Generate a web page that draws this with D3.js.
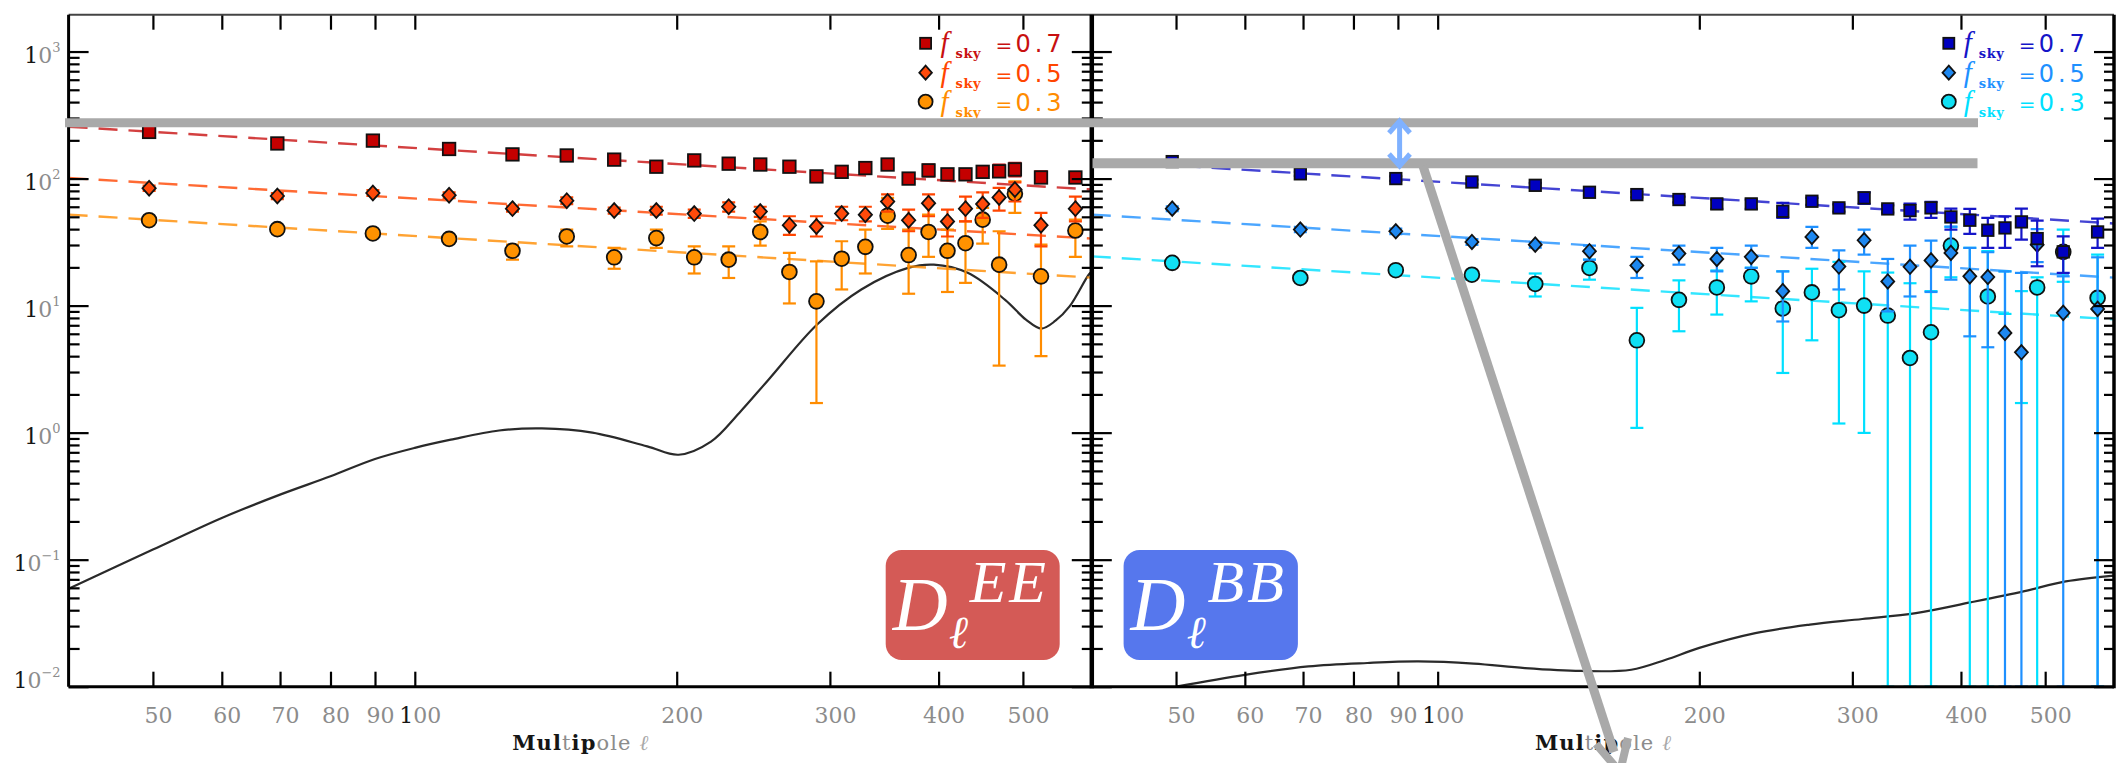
<!DOCTYPE html>
<html>
<head>
<meta charset="utf-8">
<script src="https://cdn.jsdelivr.net/npm/d3@7"></script>
<style>
  body { margin: 0; background: #fff; }
  svg { display: block; }
</style>
</head>
<body>
<svg id="chart" width="2122" height="763"></svg>
<script>
// ---- multipole bins (shared by both spectra) ----
const ell = [49.5, 69.5, 89.5, 109.5, 129.5, 149.5, 169.5, 189.5, 209.5, 229.5, 249.5, 269.5, 289.5,
             309.5, 329.5, 349.5, 369.5, 389.5, 409.5, 429.5, 449.5, 469.5, 489.5, 524.5, 574.5];

// ---- EE band powers, three sky fractions ----
const eeF07   = [233, 189, 199, 171, 155, 152, 141, 124, 139, 131, 129, 124, 104, 113, 121, 129, 100, 116, 108, 108, 113, 114, 118, 102, 102];
const eeF07Lo = [226, 183, 192, 165, 149, 146, 135, 118, 132, 124, 122, 117, 98, 106, 113, 121, 93, 104, 100, 100, 105, 103, 104, 92.5, 92.5];
const eeF07Hi = [240, 195, 206, 177, 161, 158, 147, 130, 146, 138, 136, 131, 110, 120, 129, 137, 107, 129, 116, 116, 121, 129, 133, 114, 111];

const eeF05   = [84, 73, 77, 74, 58, 67, 56, 56, 53, 60, 55, 43, 42, 53, 52, 66, 47, 64, 46, 58, 63, 71, 82, 43, 58];
const eeF05Lo = [80, 69, 73, 70, 55, 63, 53, 52, 49, 55, 50, 36, 35, 47, 46, 55, 38.5, 50.5, 35, 46, 49, 56, 66, 29.3, 46];
const eeF05Hi = [88, 77, 81, 78, 61, 71, 59, 60, 57, 65, 60, 50.5, 50.5, 60, 60, 75, 57, 75, 57, 72, 78, 84.5, 93.5, 53.7, 72];

const eeF03   = [47, 40, 37, 33.5, 27, 35, 24, 34, 24, 23, 38, 18.4, 10.8, 23.4, 29, 51, 25, 38, 27, 31, 47.5, 21, 76, 17, 39];
const eeF03Lo = [45, 38.5, 35.5, 32, 23, 29.3, 19.5, 28.5, 17.9, 16.5, 29.7, 10.4, 1.71, 13.4, 17.9, 40.2, 12.4, 24.2, 12.8, 15.1, 30.8, 3.37, 53.7, 4.0, 24.2];
const eeF03Hi = [49, 42, 39, 35, 30.2, 39.7, 28.5, 39.7, 29.3, 29.3, 46.1, 26, 22.3, 32.1, 39.7, 70.5, 39.7, 52.1, 39.7, 46.1, 58.8, 38.5, 95, 30.2, 47.5];

// ---- BB band powers (null = negative estimate, only the error bar is shown; 0 = bar runs off the axis) ----
const bbF07   = [136, 109, 100, 94, 88.5, 78, 74.8, 68.4, 63.2, 63.2, 55.3, 66.3, 58.8, 70.5, 57.7, 56, 58.8, 49.9, 47, 39.2, 40.9, 45.6, 33.7, 26.5, 38];
const bbF07Lo = [131, 105, 96, 90, 85, 74.5, 71, 65, 57.7, 57.7, 49.1, 62, 55, 63.2, 54, 47.5, 49.1, 39.7, 36.7, 28.5, 28.5, 33.1, 20.4, 18.1, 28.5];
const bbF07Hi = [141, 113, 104, 98, 92, 81.5, 78.5, 72, 68.4, 68.4, 64.4, 70.5, 62.6, 78, 61.5, 63.5, 65.6, 58, 57.7, 49.1, 50.5, 58, 46.7, 35.1, 48.4];

const bbF05   = [58, 39.7, 38.5, 31.7, 30.2, 26.8, 20.7, 25.7, 23.3, 24.2, 13, 34.7, 20.3, 32.7, 15.5, 20.2, 22.7, 26, 17, 16.8, 6.1, 4.29, 30.2, 8.77, 9.42];
const bbF05Lo = [55.5, 37.8, 36.6, 30, 28.6, 23, 16.5, 21, 18.6, 19.8, 7.5, 28.5, 13.4, 25.2, 9, 11.8, 12.8, 16, 5.73, 4.7, 0, 0, 22, 0, 0];
const bbF05Hi = [60.5, 41.6, 40.4, 33.4, 31.8, 29.7, 24.2, 29.7, 28.5, 29.7, 18.6, 41.7, 27.2, 39.7, 23.3, 29.7, 32.5, 41.9, 28.5, 26.3, 18.6, 18.1, 40, 17, 24];

const bbF03   = [21.7, 16.5, 19, 17.5, 14.8, 19.8, 5.33, 11.1, 13.9, 17, 9.5, 12.7, 9.2, 10, 8.35, 3.87, 6.17, 29.7, null, 11.8, null, null, 13.9, 26.5, 11.5];
const bbF03Lo = [20.7, 15.7, 18.1, 16.6, 11.8, 16, 1.09, 6.28, 8.5, 10.8, 2.95, 5.33, 1.18, 0.995, 0, 0, 0, 16.7, 0, 0, 8.6, 1.71, 0, 15.4, 0];
const bbF03Hi = [22.7, 17.3, 19.9, 18.4, 17.9, 23, 9.6, 15.8, 18.9, 19.9, 18.6, 19.5, 22.1, 18.6, 18.2, 15, 13, 41.7, 28.5, 26.8, 18.6, 13, 16.7, 39.7, 25.2];

// ---- power-law fits (end points of the dashed lines) ----
const fitEll  = [40, 600];
const eeFit07 = [256, 82];
const eeFit05 = [101, 33.7];
const eeFit03 = [52, 16.6];
const bbFit07 = [139, 44.3];
const bbFit05 = [52, 16.6];
const bbFit03 = [24.4, 7.8];

// ---- theory spectra ----
const eeTheoryEll = [40, 50, 60, 70, 80, 90, 100, 110, 125, 140, 160, 185, 201, 219, 236, 255, 290, 326, 369, 395, 432, 477, 504, 525, 545, 566, 595, 600];
const eeTheoryVal = [0.059, 0.12, 0.213, 0.325, 0.453, 0.62, 0.759, 0.88, 1.04, 1.08, 1.0, 0.78, 0.67, 0.85, 1.43, 2.61, 7.1, 13.4, 19.8, 21, 18.1, 11.1, 7.76, 6.6, 7.6, 9.9, 17.5, 18.5];
const bbTheoryEll = [50, 60, 71, 83, 95, 110, 126, 146, 167, 183, 200, 232, 268, 308, 355, 410, 472, 528, 600];
const bbTheoryVal = [0.0100, 0.0124, 0.01445, 0.01537, 0.0158, 0.0152, 0.0140, 0.0133, 0.0136, 0.0163, 0.0202, 0.0264, 0.0308, 0.0341, 0.038, 0.0461, 0.0563, 0.0675, 0.075];

// ---- axes ----
const xDomain = [40, 600];
const yDomain = [0.01, 1950];
const xTickValues = [50, 60, 70, 80, 90, 100, 200, 300, 400, 500];
const yMajorValues = [0.01, 0.1, 1, 10, 100, 1000];
const yMajorExp = ["\u22122", "\u22121", "0", "1", "2", "3"];
const legendLabels = ["0.7", "0.5", "0.3"];

// ---- layout ----
const svg = d3.select("#chart");
svg.append("rect").attr("width", 2122).attr("height", 763).attr("fill", "#fff");
const TOP = 14.7, BOTTOM = 686.7;
const y = d3.scaleLog().domain(yDomain).range([BOTTOM, TOP]);

const panels = [
  { id: "ee", x0: 68.6, x1: 1091.8,
    series: [
      { v: eeF03, lo: eeF03Lo, hi: eeF03Hi, fit: eeFit03, shape: "circle",  fill: "#ff9200", line: "#ff8c00" },
      { v: eeF05, lo: eeF05Lo, hi: eeF05Hi, fit: eeFit05, shape: "diamond", fill: "#ff4a0a", line: "#ff4500" },
      { v: eeF07, lo: eeF07Lo, hi: eeF07Hi, fit: eeFit07, shape: "square",  fill: "#c40000", line: "#c81010" }
    ],
    theoryL: eeTheoryEll, theoryV: eeTheoryVal,
    box: { x: 817.1, w: 174, fill: "#d45a56", sup: "EE" },
  },
  { id: "bb", x0: 1091.8, x1: 2114,
    series: [
      { v: bbF03, lo: bbF03Lo, hi: bbF03Hi, fit: bbFit03, shape: "circle",  fill: "#10e0f4", line: "#00e0ff" },
      { v: bbF05, lo: bbF05Lo, hi: bbF05Hi, fit: bbFit05, shape: "diamond", fill: "#1e88f0", line: "#1e90ff" },
      { v: bbF07, lo: bbF07Lo, hi: bbF07Hi, fit: bbFit07, shape: "square",  fill: "#0000c0", line: "#1515c8" }
    ],
    theoryL: bbTheoryEll, theoryV: bbTheoryVal,
    box: { x: 31.8, w: 174.3, fill: "#5677ed", sup: "BB" },
  }
];

const serif = "'DejaVu Serif', serif";
const lightGray = "#8c8c8c", darkInk = "#151515";

// digits rendered with the heavy "1" and pale other glyphs
function inkDigits(sel, str) {
  sel.text(null);
  for (const ch of str) {
    sel.append("tspan").attr("fill", ch === "1" ? darkInk : lightGray).text(ch);
  }
}

function drawMarker(g, shape, cx, cy, fill, s) {
  if (shape === "square") {
    g.append("rect").attr("x", cx - s.sq / 2).attr("y", cy - s.sq / 2)
      .attr("width", s.sq).attr("height", s.sq)
      .attr("fill", fill).attr("stroke", "#111").attr("stroke-width", 1.8);
  } else if (shape === "diamond") {
    const r = s.di;
    g.append("path")
      .attr("d", `M${cx},${cy - r}L${cx + r * 0.9},${cy}L${cx},${cy + r}L${cx - r * 0.9},${cy}Z`)
      .attr("fill", fill).attr("stroke", "#111").attr("stroke-width", 1.8);
  } else {
    g.append("circle").attr("cx", cx).attr("cy", cy).attr("r", s.ci)
      .attr("fill", fill).attr("stroke", "#111").attr("stroke-width", 1.8);
  }
}

panels.forEach((p, pi) => {
  const x = d3.scaleLog().domain(xDomain).range([p.x0, p.x1]);
  const g = svg.append("g").attr("class", "panel-" + p.id);
  const clipId = "clip-" + p.id;
  svg.append("clipPath").attr("id", clipId).append("rect")
    .attr("x", p.x0).attr("y", TOP).attr("width", p.x1 - p.x0).attr("height", BOTTOM - TOP + 1);
  const plot = g.append("g").attr("clip-path", `url(#${clipId})`);

  // theory curve
  const line = d3.line().x(d => x(d[0])).y(d => y(d[1])).curve(d3.curveCatmullRom.alpha(0.5));
  plot.append("path")
    .datum(p.theoryL.map((l, i) => [l, p.theoryV[i]]))
    .attr("d", line).attr("fill", "none").attr("stroke", "#2a2a2a").attr("stroke-width", 2.2);

  // fitted power laws
  p.series.forEach(s => {
    plot.append("path")
      .datum(fitEll.map((l, i) => [l, s.fit[i]]))
      .attr("d", d3.line().x(d => x(d[0])).y(d => y(d[1])))
      .attr("fill", "none").attr("stroke", s.line).attr("stroke-width", 2.4)
      .attr("stroke-dasharray", "19 11").attr("stroke-opacity", 0.8);
  });

  // error bars + markers
  const size = pi === 0 ? { sq: 12.5, di: 7.4, ci: 7.4 } : { sq: 11.5, di: 7.2, ci: 7.4 };
  p.series.forEach(s => {
    const bars = plot.append("g");
    ell.forEach((l, i) => {
      const cx = x(l);
      const yh = y(s.hi[i]);
      const yl = s.lo[i] > yDomain[0] ? y(s.lo[i]) : BOTTOM;
      bars.append("line").attr("x1", cx).attr("x2", cx).attr("y1", yh).attr("y2", yl)
        .attr("stroke", s.line).attr("stroke-width", 2.2);
      [yh, yl].forEach(yy => bars.append("line")
        .attr("x1", cx - 6.5).attr("x2", cx + 6.5).attr("y1", yy).attr("y2", yy)
        .attr("stroke", s.line).attr("stroke-width", 2.2));
    });
    const marks = plot.append("g");
    ell.forEach((l, i) => {
      if (s.v[i] == null) return;
      drawMarker(marks, s.shape, x(l), y(s.v[i]), s.fill, size);
    });
  });

  // axes: inward ticks on all four sides
  const tickStyle = sel => {
    sel.select(".domain").remove();
    sel.selectAll(".tick line").attr("stroke", "#000").attr("stroke-width", 2.2);
  };
  const bottomAxis = g.append("g").attr("transform", `translate(0,${BOTTOM})`)
    .call(d3.axisBottom(x).tickValues(xTickValues).tickSizeInner(-15).tickSizeOuter(0).tickFormat(d3.format("d")));
  tickStyle(bottomAxis);
  bottomAxis.selectAll(".tick text")
    .attr("y", 36.5).attr("dy", 0).attr("dx", 5)
    .attr("font-family", serif).attr("font-size", 22)
    .each(function (d) { inkDigits(d3.select(this), String(d)); });

  const topAxis = g.append("g").attr("transform", `translate(0,${TOP})`)
    .call(d3.axisTop(x).tickValues(xTickValues).tickSizeInner(-15).tickSizeOuter(0).tickFormat(""));
  tickStyle(topAxis);

  const yMinor = y.ticks().filter(v => yMajorValues.indexOf(v) < 0);
  const leftMajor = g.append("g").attr("transform", `translate(${p.x0},0)`)
    .call(d3.axisLeft(y).tickValues(yMajorValues).tickSizeInner(-20).tickSizeOuter(0).tickPadding(8).tickFormat(""));
  tickStyle(leftMajor);
  const leftMinor = g.append("g").attr("transform", `translate(${p.x0},0)`)
    .call(d3.axisLeft(y).tickValues(yMinor).tickSizeInner(-11).tickSizeOuter(0).tickFormat(""));
  tickStyle(leftMinor);
  const rightMajor = g.append("g").attr("transform", `translate(${p.x1},0)`)
    .call(d3.axisRight(y).tickValues(yMajorValues).tickSizeInner(-20).tickSizeOuter(0).tickFormat(""));
  tickStyle(rightMajor);
  const rightMinor = g.append("g").attr("transform", `translate(${p.x1},0)`)
    .call(d3.axisRight(y).tickValues(yMinor).tickSizeInner(-10).tickSizeOuter(0).tickFormat(""));
  tickStyle(rightMinor);

  if (pi === 0) {
    // decade labels 10^n on the outer left axis (lowest one lifted to stay inside the frame)
    yMajorValues.forEach((v, k) => {
      const base = k === 0 ? y(v) + 1.5 : y(v) + 11;
      const t = g.append("text").attr("x", p.x0 - 8).attr("y", base)
        .attr("text-anchor", "end").attr("font-family", serif).attr("font-size", 22);
      t.append("tspan").attr("fill", darkInk).text("1");
      t.append("tspan").attr("fill", lightGray).text("0");
      t.append("tspan").attr("fill", lightGray).attr("font-size", 13).attr("dy", -11).text(yMajorExp[k]);
    });
  }

  // x-axis title
  const title = g.append("text").attr("x", (p.x0 + p.x1) / 2).attr("y", 750)
    .attr("text-anchor", "middle").attr("font-family", serif).attr("font-size", 21)
    .attr("textLength", 136).attr("lengthAdjust", "spacing");
  title.append("tspan").attr("fill", darkInk).attr("font-weight", "bold").text("Mul");
  title.append("tspan").attr("fill", lightGray).text("t");
  title.append("tspan").attr("fill", darkInk).attr("font-weight", "bold").text("ip");
  title.append("tspan").attr("fill", lightGray).text("ole ");
  title.append("tspan").attr("fill", "#a8a8a8").attr("font-style", "italic").text("\u2113");

  // legend
  const legend = g.append("g");
  const rows = [43.3, 72.7, 101.7];
  const legendSeries = [p.series[2], p.series[1], p.series[0]];
  legendSeries.forEach((s, k) => {
    const mx = p.x0 + 857, my = rows[k];
    drawMarker(legend, s.shape, mx, my, s.fill, { sq: 11, di: 7, ci: 7 });
    const col = s.line;
    const t = legend.append("text").attr("y", my + 9).attr("fill", col);
    t.append("tspan").attr("x", mx + 15)
      .attr("font-family", "'Liberation Serif', serif").attr("font-style", "italic")
      .attr("font-size", 29).text("f");
    t.append("tspan").attr("x", mx + 30).attr("dy", 6)
      .attr("font-family", serif).attr("font-weight", "bold")
      .attr("font-size", 13).attr("textLength", 25).text("sky");
    t.append("tspan").attr("x", mx + 70).attr("dy", -6)
      .attr("font-family", "'DejaVu Sans', sans-serif").attr("font-size", 20).text("=");
    t.append("tspan").attr("x", mx + 90)
      .attr("font-family", "'DejaVu Sans', sans-serif").attr("font-size", 24)
      .attr("textLength", 46).attr("lengthAdjust", "spacing").text(legendLabels[k]);
  });

  // spectrum badge: D with subscript ell and polarisation superscript
  const bx = p.x0 + p.box.x;
  g.append("rect").attr("x", bx).attr("y", 550).attr("width", p.box.w).attr("height", 110)
    .attr("rx", 16).attr("fill", p.box.fill);
  const badge = g.append("text").attr("y", 630).attr("fill", "#fff")
    .attr("font-family", "'Liberation Serif', serif").attr("font-style", "italic");
  badge.append("tspan").attr("x", bx + 7).attr("font-size", 76).text("D");
  badge.append("tspan").attr("x", bx + 63).attr("y", 648).attr("font-size", 46).text("\u2113");
  badge.append("tspan").attr("x", bx + 84).attr("y", 601.5).attr("font-size", 60)
    .attr("letter-spacing", 3).text(p.box.sup);
});

// frame
const frame = svg.append("g").attr("stroke", "#000").attr("fill", "none");
frame.append("line").attr("x1", 68.6).attr("x2", 2114).attr("y1", TOP).attr("y2", TOP).attr("stroke", "#444").attr("stroke-width", 2);
frame.append("line").attr("x1", 68.6).attr("x2", 2114).attr("y1", BOTTOM).attr("y2", BOTTOM).attr("stroke-width", 3);
frame.append("line").attr("x1", 68.6).attr("x2", 68.6).attr("y1", TOP).attr("y2", BOTTOM).attr("stroke-width", 3);
frame.append("line").attr("x1", 1091.8).attr("x2", 1091.8).attr("y1", TOP).attr("y2", BOTTOM + 1.5).attr("stroke-width", 4.5);
frame.append("line").attr("x1", 2114).attr("x2", 2114).attr("y1", TOP).attr("y2", BOTTOM + 1.5).attr("stroke-width", 3.5);

// annotation overlay: reference levels, gap marker and pointer
const ann = svg.append("g");
const gray = "#a9a9a9";
ann.append("line").attr("x1", 65).attr("x2", 1978).attr("y1", 122.7).attr("y2", 122.7)
  .attr("stroke", gray).attr("stroke-width", 9);
ann.append("line").attr("x1", 1092.5).attr("x2", 1977.5).attr("y1", 163.3).attr("y2", 163.3)
  .attr("stroke", gray).attr("stroke-width", 10);
ann.append("line").attr("x1", 1423).attr("y1", 166).attr("x2", 1614).attr("y2", 752)
  .attr("stroke", gray).attr("stroke-width", 9);
ann.append("path").attr("d", "M1596,744 L1620,772 L1628,738")
  .attr("fill", "none").attr("stroke", gray).attr("stroke-width", 8).attr("stroke-linejoin", "miter");
const blue = "#7fb1ff";
ann.append("line").attr("x1", 1399.6).attr("x2", 1399.6).attr("y1", 121).attr("y2", 166)
  .attr("stroke", blue).attr("stroke-width", 5);
ann.append("path").attr("d", "M1389,133 L1399.6,121 L1410,133 M1389,154 L1399.6,166 L1410,154")
  .attr("fill", "none").attr("stroke", blue).attr("stroke-width", 5);
</script>
</body>
</html>
